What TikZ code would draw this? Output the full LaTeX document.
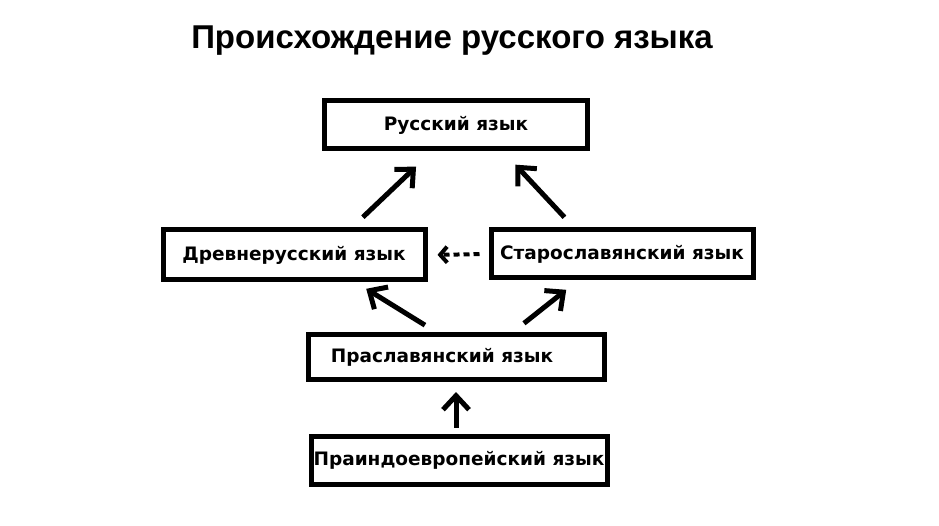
\documentclass[tikz,border=0pt]{standalone}
\usepackage{fontspec}
\setmainfont{DejaVu Sans}
\newfontfamily\titlefont{Liberation Sans}
\usetikzlibrary{arrows.meta}

\begin{document}
\begin{tikzpicture}[x=1pt, y=-1pt, >={Straight Barb[length=14pt, width=26pt]}]

\tikzstyle{block} = [draw, shape=rectangle, inner sep=0pt, line width=5pt, font=\bfseries\fontsize{18.5}{22}\selectfont]
\tikzstyle{link} = [->, line width=5pt]

\useasboundingbox (0,0) rectangle (939,526);

\node at (452,41) (title) {\titlefont\bfseries\fontsize{33}{40}\selectfont Происхождение русского языка};

\node [block, minimum width=263pt, minimum height=48pt] at (456,125) (rus) {Русский язык};
\node [block, minimum width=262pt, minimum height=50pt] at (294,255) (drev) {Древнерусский язык};
\node [block, minimum width=262pt, minimum height=48pt] at (622,254) (stara) {Старославянский язык};
\node [block, minimum width=296pt, minimum height=45pt] at (456,357) (praslav) {Праславянский язык\hspace*{28pt}};
\node [block, minimum width=296pt, minimum height=48pt] at (459,460) (praind) {Праиндоевропейский язык};

\begin{scope}[line width=5pt]
     \draw[link, shorten <=15pt, shorten >=22pt] ([xshift=58pt]drev.north) -- ([xshift=-24pt]rus.south);
     \draw[link, shorten <=14pt, shorten >=18pt] ([xshift=-48pt]stara.north) -- ([xshift=47pt]rus.south);
     \draw[link, shorten <=13pt, shorten >=12pt] ([xshift=-20pt]praslav.north) -- ([xshift=62pt]drev.south);
     \draw[link, shorten <=14pt, shorten >=15pt] ([xshift=57pt]praslav.north) -- ([xshift=-44pt]stara.south);
     \draw[link, shorten <=6pt, shorten >=10pt] ([xshift=-3pt]praind.north) -- (praslav.south);
     \draw[-{Straight Barb[length=7pt, width=16pt]}, line width=4pt, dash pattern=on 6pt off 4pt, shorten <=9pt, shorten >=10pt] (stara.west) -- (drev.east);
\end{scope}
\end{tikzpicture}
\end{document}
